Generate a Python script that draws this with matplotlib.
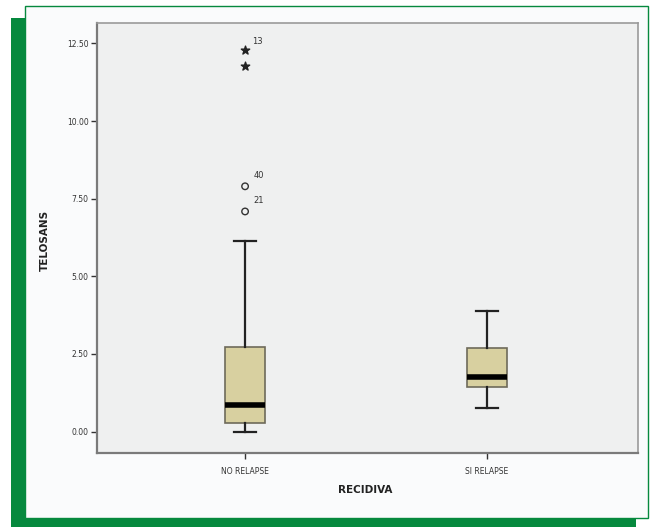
import matplotlib
matplotlib.use("Agg")
import matplotlib.pyplot as plt
from matplotlib.patches import Rectangle

# ---- data ----
categories = ["NO RELAPSE", "SI RELAPSE"]
whisker_low = [0.00, 0.77]
q1 = [0.28, 1.45]
median = [0.87, 1.75]
q3 = [2.73, 2.70]
whisker_high = [6.15, 3.87]
outlier_circle_vals = [7.09, 7.90]
outlier_circle_ids = ["21", "40"]
outlier_star_vals = [11.78, 12.30]
outlier_star_ids = ["", "13"]
yticks = [0.0, 2.5, 5.0, 7.5, 10.0, 12.5]
ytick_labels = ["0.00", "2.50", "5.00", "7.50", "10.00", "12.50"]
ylabel = "TELOSANS"
xlabel = "RECIDIVA"

W, H = 651, 527
fig = plt.figure(figsize=(W / 100, H / 100), dpi=100)
fig.patch.set_facecolor("white")

green = "#06893E"
# decorative green frame
fig.patches.append(Rectangle((11 / W, 0), 14 / W, 1 - 18 / H, transform=fig.transFigure,
                             facecolor=green, edgecolor="none", zorder=0))
fig.patches.append(Rectangle((11 / W, 0), (636 - 11) / W, 10 / H, transform=fig.transFigure,
                             facecolor=green, edgecolor="none", zorder=0))
fig.patches.append(Rectangle((25 / W, 1 - 518 / H), (648 - 25) / W, (518 - 6) / H,
                             transform=fig.transFigure, facecolor="#FAFBFC",
                             edgecolor=green, linewidth=1.0, zorder=1))

ax = fig.add_axes([97 / W, 1 - 453 / H, (638 - 97) / W, (453 - 23) / H], zorder=2)
ax.set_facecolor("#EFF0F0")

stats = []
for i, c in enumerate(categories):
    stats.append(dict(label=c, whislo=whisker_low[i], q1=q1[i], med=median[i],
                      q3=q3[i], whishi=whisker_high[i], fliers=[]))
pos = [1, 2]
ax.bxp(stats, positions=pos, widths=0.165, patch_artist=True, showfliers=False,
       boxprops=dict(facecolor="#D8D0A0", edgecolor="#6E6A5A", linewidth=1.2),
       medianprops=dict(color="black", linewidth=4.0, solid_capstyle="butt"),
       whiskerprops=dict(color="#222222", linewidth=1.6),
       capprops=dict(color="#222222", linewidth=1.6), capwidths=0.088)

# outliers for NO RELAPSE
ax.scatter([pos[0]] * len(outlier_circle_vals), outlier_circle_vals, s=22,
           facecolors="none", edgecolors="#333333", linewidths=1.0, zorder=3)
ax.scatter([pos[0]] * len(outlier_star_vals), outlier_star_vals, marker="*", s=40,
           color="#222222", zorder=3)
for v, t in zip(outlier_circle_vals, outlier_circle_ids):
    ax.annotate(t, (pos[0], v), xytext=(6, 8), textcoords="offset points",
                fontsize=6, color="#333333", va="center", ha="left")
for v, t in zip(outlier_star_vals, outlier_star_ids):
    if t:
        ax.annotate(t, (pos[0], v), xytext=(5, 6), textcoords="offset points",
                    fontsize=6, color="#333333", va="center", ha="left")

ax.set_xlim(0.388, 2.624)
ax.set_ylim(-0.69, 13.16)
ax.set_yticks(yticks)
ax.set_yticklabels(ytick_labels)
ax.set_xticks(pos)
ax.set_xticklabels(categories)
ax.tick_params(axis="y", labelsize=5.5, colors="#333333", length=4, width=1.0, pad=2)
ax.tick_params(axis="x", labelsize=5.5, colors="#333333", length=4, width=1.0, pad=6)
for s in ["left", "bottom"]:
    ax.spines[s].set_color("#7A7A7A")
    ax.spines[s].set_linewidth(1.6)
for s in ["top", "right"]:
    ax.spines[s].set_color("#9A9A9A")
    ax.spines[s].set_linewidth(1.2)

fig.text(45 / W, 1 - 240 / H, ylabel, rotation=90, fontsize=7.5, fontweight="bold",
         ha="center", va="center", color="#222222")
fig.text(365 / W, 1 - 490 / H, xlabel, fontsize=7.5, fontweight="bold",
         ha="center", va="center", color="#222222")

fig.savefig("out.png", dpi=100)
